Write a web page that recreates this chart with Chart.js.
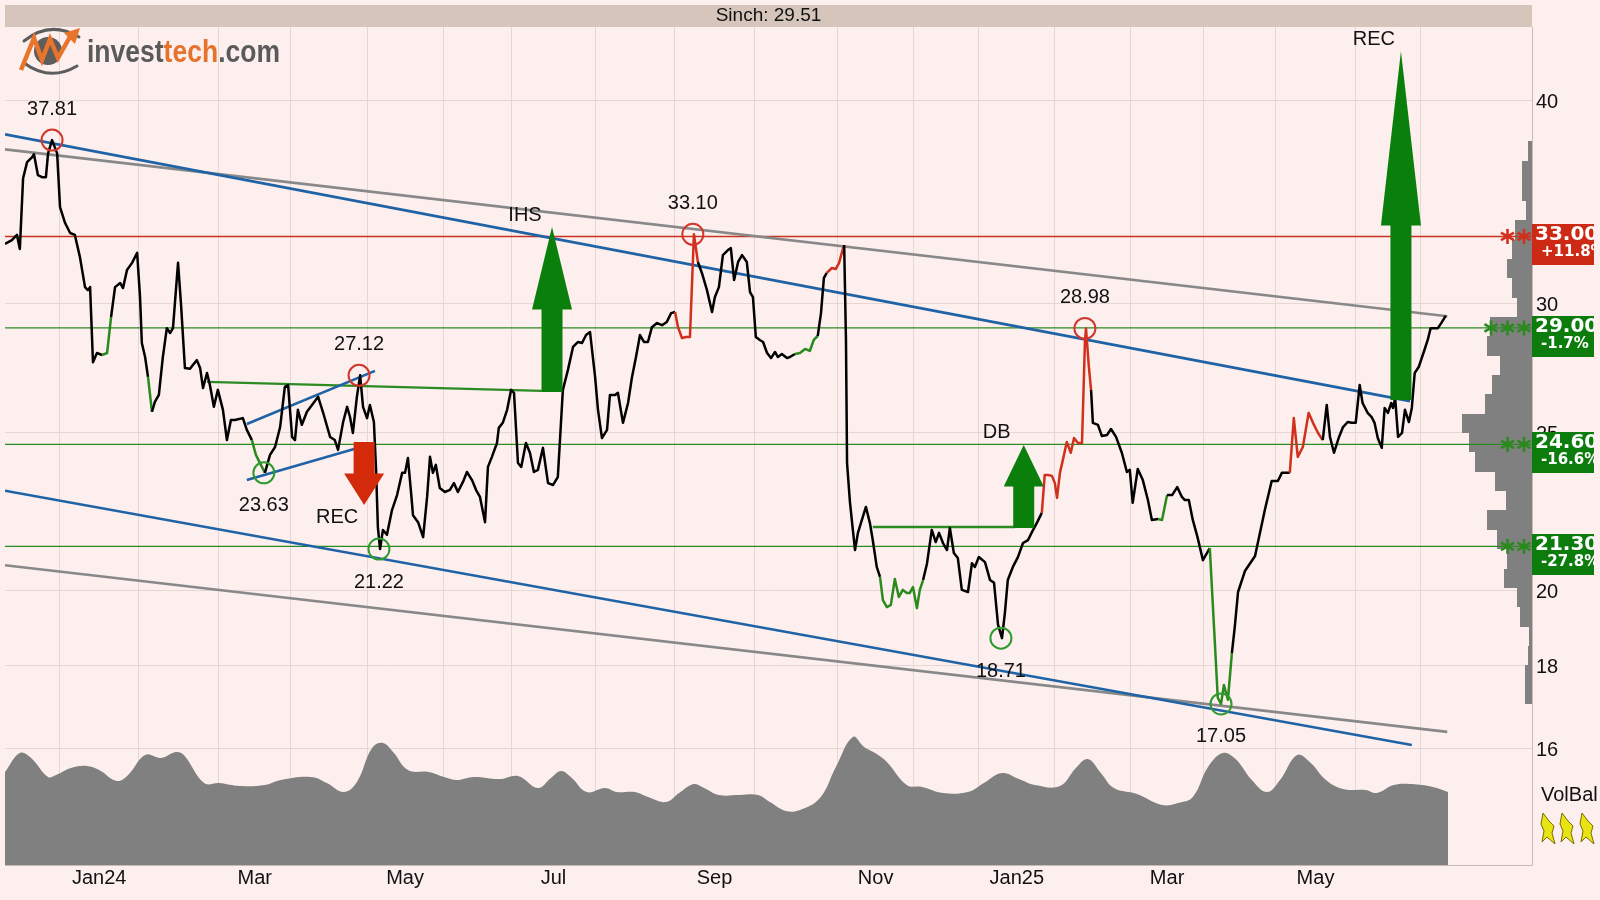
<!DOCTYPE html>
<html><head><meta charset="utf-8">
<script src="https://cdn.jsdelivr.net/npm/chart.js@4.4.1/dist/chart.umd.min.js"></script>
<style>html,body{margin:0;padding:0;background:#fcefed;}canvas{display:block;}</style>
</head><body>
<canvas id="c" width="1600" height="900" style="width:1600px;height:900px"></canvas>
<script>
// ---------------- DATA ----------------
const ticker = 'Sinch';
const lastPrice = 29.51;
// trading-day index of first trading day of each month, Jan 2024 .. Jul 2025
const monthStartDays = [15,37,59,79,100,121,140,163,185,207,230,251,269,290,311,331,351,373,391];
const monthLabels = ['Jan24','','Mar','','May','','Jul','','Sep','','Nov','','Jan25','','Mar','','May',''];
const priceTicks = [16,18,20,25,30,40];

const priceDays = [0.0,1.9,3.3,4.1,5.0,6.1,7.5,8.0,9.1,10.2,11.3,11.9,13.0,14.4,15.2,16.6,18.0,19.3,20.7,22.1,22.9,23.5,24.3,25.4,26.8,28.2,29.3,30.4,31.8,32.6,33.7,35.1,36.5,37.3,37.8,38.7,39.5,40.6,41.4,42.5,43.6,44.7,45.6,46.4,47.8,48.6,49.7,51.1,51.9,53.0,53.9,54.7,55.8,56.6,57.7,58.8,60.2,61.3,62.4,63.5,65.7,66.8,68.2,69.3,71.8,73.2,74.6,76.0,77.3,78.2,79.3,80.1,80.9,82.0,83.4,84.8,86.5,87.8,89.8,91.1,92.0,93.4,94.5,95.3,96.1,97.2,98.1,98.9,100.0,100.8,101.9,102.5,103.0,103.6,104.4,105.5,106.9,108.3,109.7,110.5,111.3,112.1,112.7,114.1,115.5,116.6,117.4,118.2,119.0,120.1,121.5,122.9,124.0,125.1,126.5,127.6,129.0,130.1,131.2,132.6,133.4,134.5,135.9,136.4,137.5,138.7,139.8,140.6,141.7,142.6,143.9,145.0,146.1,147.2,148.6,150.0,151.4,152.7,153.3,154.1,155.5,156.9,158.3,159.4,160.5,161.6,163.0,163.8,164.9,166.3,167.1,168.5,169.3,170.7,172.1,173.2,174.3,175.4,176.5,177.6,178.7,180.1,181.5,182.8,184.0,185.1,185.9,187.0,188.1,189.2,189.7,190.3,191.4,192.5,193.9,195.3,196.1,197.2,198.3,199.7,200.5,201.4,202.5,203.6,204.9,205.8,206.6,207.4,208.5,209.4,210.5,211.6,212.7,213.5,214.6,216.0,216.8,218.2,219.6,221.0,222.3,223.4,224.5,225.4,226.2,227.0,228.4,229.5,230.4,231.5,231.8,232.3,232.6,233.4,234.2,234.8,235.6,236.7,237.8,238.9,239.7,240.8,241.7,242.5,243.6,244.7,245.8,246.9,248.0,249.1,249.9,250.8,251.9,252.7,253.6,254.7,256.0,257.1,258.0,259.1,260.2,261.0,262.1,263.2,264.3,266.0,267.1,267.9,269.0,270.7,272.1,273.2,274.3,275.4,276.2,277.0,278.4,279.8,281.2,282.6,283.7,285.0,286.4,287.2,288.1,289.2,290.0,290.6,291.4,292.2,293.3,294.4,295.3,296.4,297.5,298.3,298.6,299.4,300.0,300.5,301.9,303.0,304.4,305.5,306.9,308.5,309.9,310.7,311.5,312.9,314.3,315.7,316.8,318.5,319.6,321.0,322.4,323.8,325.1,325.9,327.0,328.1,329.4,330.9,332.0,332.8,334.2,335.0,335.9,336.7,337.8,338.9,339.7,340.6,342.5,345.3,348.0,349.9,351.6,352.7,354.1,354.9,356.0,357.1,358.5,360.1,361.3,362.7,364.0,365.1,366.0,367.1,368.5,369.6,370.9,372.0,373.1,374.2,375.0,376.4,377.5,378.3,379.2,380.3,381.1,382.0,382.9,383.4,384.0,384.8,385.9,386.7,387.8,388.6,389.4,390.5,391.9,393.0,393.8,394.7,395.8,396.9,398.0];
const priceClose = [32.65,32.83,33.07,32.42,35.83,36.65,36.91,37.06,35.98,35.88,35.88,37.11,37.81,37.11,34.40,33.63,33.16,33.07,32.05,30.72,30.59,30.72,27.63,27.99,27.91,27.99,29.45,30.72,30.90,30.68,31.47,31.79,32.24,30.29,28.39,27.83,27.06,25.76,26.12,26.38,27.83,28.99,28.79,28.99,31.79,30.03,27.40,27.37,27.52,27.71,27.40,26.64,27.21,26.75,25.94,26.57,25.83,24.75,25.46,25.46,25.53,25.11,24.75,24.24,23.63,24.24,24.51,25.21,26.68,26.75,24.86,24.75,25.83,25.29,25.76,26.01,26.31,25.76,24.86,24.75,24.41,25.39,25.94,25.57,25.00,26.31,27.12,25.94,25.53,26.01,25.39,23.73,21.89,21.22,21.80,21.65,22.42,22.90,23.63,23.63,24.13,23.07,22.26,22.04,21.58,22.84,24.17,23.63,23.90,23.13,23.00,23.07,23.29,23.00,23.33,23.66,23.39,23.07,22.84,22.04,23.83,24.17,24.65,25.18,25.36,25.83,26.57,26.46,23.96,23.83,24.65,24.31,23.66,23.73,24.48,23.29,23.23,23.49,24.75,26.57,27.33,28.23,28.43,28.39,28.71,28.83,27.06,25.83,24.82,25.11,26.38,26.38,26.46,25.36,26.08,27.06,27.83,28.71,28.43,28.43,29.03,29.20,29.11,29.24,29.61,29.66,29.03,28.59,28.63,28.63,30.59,33.10,31.83,31.34,30.59,29.66,30.29,30.72,32.14,32.37,32.46,31.03,31.83,32.14,31.83,30.50,30.29,28.63,28.51,28.43,27.99,27.79,28.03,27.83,27.95,27.79,27.83,27.95,27.99,28.15,28.07,28.51,28.67,29.61,31.12,31.34,31.56,31.52,31.79,32.46,32.60,28.51,23.96,22.67,21.80,21.19,21.71,22.11,22.52,22.02,21.49,20.69,20.40,19.74,19.55,19.61,20.34,19.83,20.03,19.94,19.94,20.11,19.52,20.03,20.31,20.80,21.80,21.43,21.71,21.40,21.19,21.86,21.10,20.95,20.03,19.97,20.80,20.69,20.98,20.83,20.31,20.23,19.07,18.71,19.39,20.31,20.69,20.98,21.40,21.49,21.74,22.01,22.33,23.56,23.56,23.53,23.29,22.81,23.63,24.06,24.68,24.31,24.82,24.65,24.65,28.39,28.98,27.44,26.57,25.36,25.29,24.89,24.93,25.14,24.86,24.31,23.66,23.73,22.65,23.76,23.39,22.74,22.11,22.14,22.11,22.90,22.90,23.16,22.84,22.74,22.74,22.11,21.58,20.89,21.10,21.25,18.58,17.20,17.05,17.51,17.15,18.32,19.01,19.97,20.57,21.01,22.42,23.36,23.36,23.63,23.63,23.63,25.53,24.17,24.51,25.72,25.36,25.00,24.75,26.01,24.86,24.31,24.86,25.21,25.39,25.36,25.36,26.75,26.08,25.72,25.57,25.36,24.82,24.48,25.90,25.72,26.08,25.90,26.27,24.86,25.00,25.83,25.39,25.90,27.21,27.44,28.03,28.51,28.99,28.99,28.99,29.24,29.51];

// signal colouring of the price line (trading-day spans)
const greenSpans = [[26.8,29.3],[39.5,40.6],[68.2,71.8],[218.2,224.5],[241.7,253.6],[318.5,321.0],[332.8,338.9]];
const redSpans = [[185.1,191.4],[227.0,231.8],[286.4,300.0],[354.9,364.0]];

// volume balance curve (relative volume)
const volumeDays = [0,4.1,7.2,11.9,14.1,18.2,22.6,26.0,30.9,34.0,38.7,43.1,47.2,49.4,55.0,59.1,64.9,71.8,76.2,84.5,88.9,93.6,97.2,101.4,104.4,107.2,111.3,117.1,121.3,124.8,129.5,136.7,141.7,147.2,150.8,153.6,156.3,160.7,165.7,169.0,174.0,177.6,182.6,186.2,190.3,193.1,197.2,203.0,208.0,211.3,215.7,219.6,225.1,229.5,234.2,237.3,240.8,243.6,249.1,253.3,259.1,266.0,270.4,275.4,280.1,284.5,291.4,295.8,299.1,302.7,306.3,312.7,319.6,324.0,328.1,332.3,336.4,339.9,344.4,348.6,352.2,356.9,360.4,364.9,369.6,375.9,378.9,383.6,388.6,394.4,398.6];
const volumeValues = [0.93,1.12,1.07,0.88,0.90,0.97,0.99,0.95,0.84,0.90,1.10,1.07,1.13,1.10,0.82,0.82,0.79,0.80,0.85,0.88,0.82,0.73,0.83,1.17,1.22,1.13,0.95,0.93,0.88,0.85,0.88,0.86,0.89,0.77,0.87,0.94,0.88,0.73,0.77,0.73,0.73,0.68,0.63,0.72,0.81,0.77,0.70,0.70,0.70,0.63,0.54,0.55,0.67,0.98,1.28,1.18,1.11,1.03,0.80,0.78,0.72,0.73,0.82,0.92,0.86,0.80,0.79,0.97,1.06,0.92,0.77,0.71,0.60,0.62,0.68,0.98,1.12,1.06,0.85,0.73,0.85,1.10,1.03,0.85,0.76,0.75,0.72,0.80,0.81,0.78,0.73];

// volume-by-price profile (band centre price, relative volume)
const profilePrices = [37.22,36.16,35.18,34.23,33.31,32.41,31.54,30.69,29.86,29.05,28.27,27.51,26.77,26.04,25.34,24.66,23.99,23.34,22.72,22.10,21.50,20.92,20.36,19.81,19.28,18.76,18.25,17.76,17.28];
const profileVolumes = [4,10,10,6,17,20,25,20,15,42,45,32,40,47,70,63,57,37,26,45,35,25,28,15,12,3,4,7,7];

// support / resistance levels
const levelPrices = [33.00,29.00,24.60,21.30];
const levelChanges = ['+11.8%','-1.7%','-16.6%','-27.8%'];
const levelStars = [2,3,2,2];
const levelKinds = ['resistance','support','support','support'];

// turning points
const pivotDays = [13.0,97.8,190.0,298.3,71.5,103.3,275.1,335.9];
const pivotPrices = [37.81,27.12,33.10,28.98,23.63,21.22,18.71,17.05];
const pivotKinds = ['top','top','top','top','bottom','bottom','bottom','bottom'];

// trend lines: [[day, price],[day, price]]
const upperBlue = [[0,38.12],[388.1,26.15]];
const upperGray = [[0,37.32],[398.4,29.48]];
const lowerBlue = [[0,23.04],[388.6,16.09]];
const lowerGray = [[0,20.74],[398.4,16.39]];
const wedgeUpper = [[66.8,25.32],[102.2,27.29]];
const wedgeLower = [[66.8,23.39],[102.2,24.65]];
const ihsNeck = [[55.8,26.87],[148.3,26.53]];
const dbNeck = [[239.7,21.89],[279.0,21.89]];

// pattern target arrows
const arrowDays = [151.1,99.2,281.4,385.6];
const arrowFrom = [26.49,24.68,21.86,26.19];
const arrowTo = [33.44,22.58,24.58,42.87];
const arrowLabels = ['IHS','REC','DB','REC'];

// axis extents
const X_MAX = 421.8, Y_MIN = 13.58, Y_MAX = 44.36, VOL_MAX = 8.38;

// ---------------- STYLE ----------------
const BG = '#fcefed', GRID = '#e6d6d4';
const GREEN_LINE = '#2c8a22', RED_LINE = '#c8321e';
const BLUE = '#1f63a6', GRAY = '#888888';
const FONT = 'Liberation Sans, Arial, sans-serif';
const AREA = {left: 5, top: 27, right: 1532, bottom: 865};

function segColor(ctx){
  const a = ctx.p0.parsed.x, b = ctx.p1.parsed.x;
  for (const [s,e] of greenSpans) if (a >= s-1e-6 && b <= e+1e-6) return '#2a8a1e';
  for (const [s,e] of redSpans) if (a >= s-1e-6 && b <= e+1e-6) return '#d0301c';
  return '#000000';
}
const pts = (xs, ys) => xs.map((x,i)=>({x, y: ys[i]}));
const seg = (p) => p.map(([x,y])=>({x,y}));
const lineDs = (data, color, w, order) => ({data, borderColor: color, borderWidth: w, pointRadius: 0, tension: 0, fill: false, order, yAxisID: 'y'});

const datasets = [
  {data: pts(volumeDays, volumeValues), yAxisID: 'yVol', fill: 'origin', backgroundColor: '#808080', borderColor: '#808080', borderWidth: 0, pointRadius: 0, tension: 0.4, order: 20},
  ...levelPrices.map((p,i)=> lineDs([{x:0,y:p},{x:X_MAX,y:p}], levelKinds[i]==='resistance'?RED_LINE:GREEN_LINE, 1.4, 12)),
  lineDs(seg(upperGray), GRAY, 2.6, 9),
  lineDs(seg(lowerGray), GRAY, 2.6, 9),
  lineDs(seg(upperBlue), BLUE, 2.6, 8),
  lineDs(seg(lowerBlue), BLUE, 2.6, 8),
  lineDs(seg(wedgeUpper), BLUE, 2.6, 8),
  lineDs(seg(wedgeLower), BLUE, 2.6, 8),
  lineDs(seg(ihsNeck), GREEN_LINE, 2.4, 8),
  lineDs(seg(dbNeck), GREEN_LINE, 2.4, 8),
  {data: pts(priceDays, priceClose), yAxisID: 'y', borderColor: '#000', borderWidth: 2.5, pointRadius: 0, tension: 0, fill: false, borderJoinStyle: 'round', order: 2, segment: {borderColor: segColor}},
  {data: pivotDays.map((d,i)=>({x:d,y:pivotPrices[i]})).filter((_,i)=>pivotKinds[i]==='top'), yAxisID:'y', showLine:false, pointRadius:10.5, pointBorderWidth:2, pointBorderColor:'#d0362a', pointBackgroundColor:'rgba(0,0,0,0)', order:1},
  {data: pivotDays.map((d,i)=>({x:d,y:pivotPrices[i]})).filter((_,i)=>pivotKinds[i]==='bottom'), yAxisID:'y', showLine:false, pointRadius:10.5, pointBorderWidth:2, pointBorderColor:'#2e9a2e', pointBackgroundColor:'rgba(0,0,0,0)', order:1}
];

const monthMids = monthStartDays.slice(0,-1).map((d,i)=>(d+monthStartDays[i+1])/2);
const xTicks = [...monthStartDays, ...monthMids].sort((a,b)=>a-b);

function X(ch,d){return ch.scales.x.getPixelForValue(d);}
function Y(ch,p){return ch.scales.y.getPixelForValue(p);}

function drawArrow(c, x, y0, y1, color){
  const dir = y1 < y0 ? -1 : 1;
  const len = Math.abs(y1-y0), head = len*0.5, bw = 10.5, hw = 20;
  const yh = y1 - dir*head;
  c.beginPath();
  c.moveTo(x-bw,y0); c.lineTo(x-bw,yh); c.lineTo(x-hw,yh); c.lineTo(x,y1);
  c.lineTo(x+hw,yh); c.lineTo(x+bw,yh); c.lineTo(x+bw,y0); c.closePath();
  c.fillStyle = color; c.fill();
}
function drawStar(c,x,y,r,color){
  c.strokeStyle = color; c.lineWidth = 2.6;
  for (let k=0;k<3;k++){
    const a = Math.PI/2 + k*Math.PI/3;
    c.beginPath(); c.moveTo(x+r*Math.cos(a), y+r*Math.sin(a)); c.lineTo(x-r*Math.cos(a), y-r*Math.sin(a)); c.stroke();
  }
}

const deco = {
  id: 'deco',
  beforeDraw(ch){
    const c = ch.ctx; c.save(); c.fillStyle = BG; c.fillRect(0,0,ch.width,ch.height); c.restore();
  },
  beforeDatasetsDraw(ch){
    const c = ch.ctx, a = ch.chartArea, n = profilePrices.length;
    c.save(); c.fillStyle = '#808080';
    for (let i=0;i<n;i++){
      const p = profilePrices[i];
      const up = i>0 ? Math.sqrt(p*profilePrices[i-1]) : p*Math.sqrt(p/profilePrices[i+1]);
      const lo = i<n-1 ? Math.sqrt(p*profilePrices[i+1]) : p*Math.sqrt(p/profilePrices[i-1]);
      const y0 = Math.round(Y(ch,up)), y1 = Math.round(Y(ch,lo));
      const w = profileVolumes[i];
      c.fillRect(a.right - w, y0, w, y1-y0);
    }
    c.restore();
  },
  afterDatasetsDraw(ch){
    const c = ch.ctx;
    c.save();
    for (let i=0;i<arrowDays.length;i++){
      const x = X(ch, arrowDays[i]), y0 = Y(ch, arrowFrom[i]), y1 = Y(ch, arrowTo[i]);
      const up = y1 < y0;
      drawArrow(c, x, y0, y1, up ? '#0b7f0b' : '#d42a0c');
      c.fillStyle = '#111'; c.font = '20px ' + FONT; c.textAlign = 'center'; c.textBaseline = 'middle';
      c.fillText(arrowLabels[i], x - 27, up ? y1 - 12 : y1 + 12);
    }
    c.fillStyle = '#111'; c.font = '20px ' + FONT; c.textAlign = 'center'; c.textBaseline = 'middle';
    for (let i=0;i<pivotDays.length;i++){
      const x = X(ch,pivotDays[i]), y = Y(ch,pivotPrices[i]);
      c.fillText(pivotPrices[i].toFixed(2), x, pivotKinds[i]==='top' ? y - 31 : y + 33);
    }
    const a = ch.chartArea;
    for (let i=0;i<levelPrices.length;i++){
      const y = Y(ch, levelPrices[i]);
      const col = levelKinds[i]==='resistance' ? '#d0301c' : '#2a8a1e';
      for (let k=0;k<levelStars[i];k++) drawStar(c, a.right - 8 - k*16.5, y, 7.5, col);
    }
    c.restore();
  },
  afterDraw(ch){
    const c = ch.ctx, a = ch.chartArea;
    c.save();
    c.strokeStyle = '#c9b9b7'; c.lineWidth = 1;
    c.beginPath(); c.moveTo(a.right+0.5, a.top); c.lineTo(a.right+0.5, a.bottom+0.5); c.lineTo(a.left, a.bottom+0.5); c.stroke();
    c.fillStyle = '#d5c5bb'; c.fillRect(a.left, 5, a.right - a.left, a.top - 5);
    c.fillStyle = '#111'; c.font = '19px ' + FONT; c.textAlign = 'center'; c.textBaseline = 'middle';
    c.fillText(ticker + ': ' + lastPrice.toFixed(2), (a.left + a.right)/2, 16);
    for (let i=0;i<levelPrices.length;i++){
      const y = Math.round(Y(ch, levelPrices[i]));
      const col = levelKinds[i]==='resistance' ? '#cc2a14' : '#0c7c0c';
      c.save();
      c.beginPath(); c.rect(a.right, y-12, 62, 41); c.clip();
      c.fillStyle = col; c.fillRect(a.right, y-12, 62, 41);
      c.fillStyle = '#fff'; c.textAlign = 'left'; c.textBaseline = 'middle';
      c.font = 'bold 20px DejaVu Sans, sans-serif';
      c.fillText(levelPrices[i].toFixed(2), a.right + 3, y - 1);
      c.font = 'bold 15px DejaVu Sans, sans-serif';
      c.fillText(levelChanges[i], a.right + 9, y + 16);
      c.restore();
    }
    c.save();
    c.strokeStyle = '#5d5d5d'; c.lineWidth = 3; c.lineCap = 'round';
    c.beginPath(); c.moveTo(24,41); c.quadraticCurveTo(50,20,79,37); c.stroke();
    c.beginPath(); c.moveTo(24,63); c.quadraticCurveTo(50,82,77,66); c.stroke();
    c.fillStyle = '#5d5d5d'; c.beginPath(); c.arc(48,51,14,0,Math.PI*2); c.fill();
    c.strokeStyle = '#e9742b'; c.lineWidth = 4.5; c.lineJoin = 'miter'; c.lineCap = 'butt';
    c.beginPath(); c.moveTo(21,70); c.lineTo(34,38); c.lineTo(42,60); c.lineTo(50,39); c.lineTo(58,58); c.lineTo(71,35); c.stroke();
    c.fillStyle = '#e9742b'; c.beginPath(); c.moveTo(80,28); c.lineTo(64,33); c.lineTo(75,44); c.closePath(); c.fill();
    const parts = [['invest','#5a5a5a'],['tech','#e5722d'],['.com','#5a5a5a']];
    c.font = 'bold 27px ' + FONT;
    const total = c.measureText('investtech.com').width;
    c.translate(87, 62); c.scale(193/total, 1.15);
    c.textAlign = 'left'; c.textBaseline = 'alphabetic';
    let xx = 0;
    for (const [t,col] of parts){ c.fillStyle = col; c.fillText(t, xx, 0); xx += c.measureText(t).width; }
    c.restore();
    c.fillStyle = '#111'; c.font = '20px ' + FONT; c.textAlign = 'left'; c.textBaseline = 'middle';
    c.fillText('VolBal', 1541, 795);
    const icons = [[1548,830],[1567,830],[1587,830]];
    const shape = [[-5,-17],[1,-9],[6,-4],[4,3],[7,14],[-1,7],[-6,12],[-4,1],[-7,-6]];
    for (const [cx,cy] of icons){
      c.beginPath(); shape.forEach(([dx,dy],k)=> k? c.lineTo(cx+dx,cy+dy) : c.moveTo(cx+dx,cy+dy)); c.closePath();
      c.fillStyle = '#e8e414'; c.fill(); c.strokeStyle = '#7a6a00'; c.lineWidth = 1; c.stroke();
    }
    c.restore();
  }
};

const chart = new Chart(document.getElementById('c'), {
  type: 'line',
  data: {datasets},
  options: {
    responsive: false, animation: false, devicePixelRatio: 1, events: [],
    layout: {autoPadding: false, padding: {left: AREA.left, top: AREA.top, right: 0, bottom: 0}},
    plugins: {legend: {display: false}, tooltip: {enabled: false}, title: {display: false}},
    scales: {
      x: {
        type: 'linear', min: 0, max: X_MAX, bounds: 'data', position: 'bottom',
        afterBuildTicks(s){ s.ticks = xTicks.map(v=>({value: v})); },
        afterFit(s){ s.height = 35; s.paddingLeft = 0; s.paddingRight = 0; },
        grid: {color: (ctx)=> (ctx.tick && monthStartDays.includes(ctx.tick.value)) ? GRID : 'rgba(0,0,0,0)', drawTicks: false, lineWidth: 1},
        border: {display: false},
        ticks: {autoSkip: false, maxRotation: 0, minRotation: 0, padding: 1, color: '#111', font: {family: FONT, size: 20},
          callback: (v)=>{ const i = monthMids.indexOf(v); return i >= 0 ? monthLabels[i] : ''; }}
      },
      y: {
        type: 'logarithmic', position: 'right', min: Y_MIN, max: Y_MAX, bounds: 'data',
        afterBuildTicks(s){ s.ticks = priceTicks.map(v=>({value: v})); },
        afterFit(s){ s.width = 68; s.paddingTop = 0; s.paddingBottom = 0; },
        grid: {color: GRID, drawTicks: false, lineWidth: 1},
        border: {display: false},
        ticks: {autoSkip: false, padding: 4, labelOffset: 2, color: '#111', font: {family: FONT, size: 20}, callback: (v)=> String(v)}
      },
      yVol: {type: 'linear', display: false, position: 'right', min: 0, max: VOL_MAX, grid: {drawTicks: false}, afterFit(s){ s.width = 0; s.paddingTop = 0; s.paddingBottom = 0; }}
    }
  },
  plugins: [deco]
});
// make the plot area sit exactly where the reference has it
(function fitArea(){
  const ca = chart.chartArea, p = chart.options.layout.padding;
  const dl = ca.left - AREA.left, dt = ca.top - AREA.top, dr = AREA.right - ca.right, db = ca.bottom - AREA.bottom;
  if (Math.abs(dl) > 0.3 || Math.abs(dt) > 0.3 || Math.abs(dr) > 0.3 || Math.abs(db) > 0.3) {
    chart.options.layout.padding = {left: p.left - dl, top: p.top - dt, right: (p.right||0) - dr, bottom: (p.bottom||0) + db};
    chart.update('none');
  }
})();
</script>
</body></html>
